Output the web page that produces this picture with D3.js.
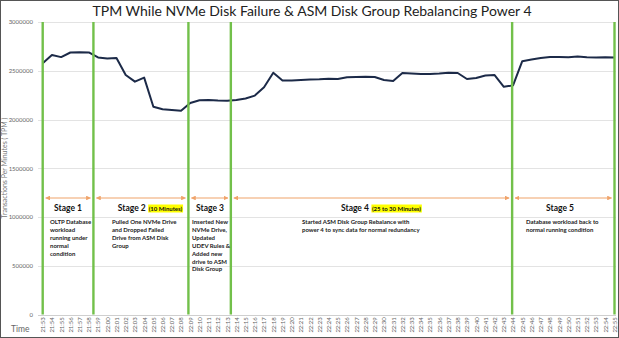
<!DOCTYPE html>
<html><head><meta charset="utf-8">
<script src="https://cdnjs.cloudflare.com/ajax/libs/d3/7.8.5/d3.min.js"></script>
<style>html,body{margin:0;padding:0;background:#fff}</style>
</head><body>
<svg id="c" width="619" height="338"></svg>
<script>
const title = "TPM While NVMe Disk Failure & ASM Disk Group Rebalancing Power 4";
const yTitle = "Transactions Per Minutes ( TPM )";
const xTitle = "Time";
const times = ["21:53","21:54","21:55","21:56","21:57","21:58","21:59","22:00","22:01","22:02",
  "22:03","22:04","22:05","22:06","22:07","22:08","22:09","22:10","22:11","22:12",
  "22:13","22:14","22:15","22:16","22:17","22:18","22:19","22:20","22:21","22:22",
  "22:23","22:24","22:25","22:26","22:27","22:28","22:29","22:30","22:31","22:32",
  "22:33","22:34","22:35","22:36","22:37","22:38","22:39","22:40","22:41","22:42",
  "22:43","22:44","22:45","22:46","22:47","22:48","22:49","22:50","22:51","22:52",
  "22:53","22:54","22:55"];
const tpm = [2576000,2662000,2640000,2687000,2690000,2688000,2636000,2625000,2630000,2456000,
  2388000,2430000,2131000,2105000,2097000,2090000,2170000,2197000,2200000,2195000,
  2193000,2200000,2215000,2245000,2330000,2480000,2400000,2400000,2405000,2410000,
  2412000,2418000,2415000,2433000,2436000,2439000,2436000,2405000,2395000,2477000,
  2472000,2467000,2467000,2472000,2480000,2477000,2415000,2426000,2451000,2456000,
  2335000,2350000,2598000,2615000,2631000,2641000,2641000,2638000,2646000,2638000,
  2636000,2638000,2636000];
const yTicks = [0,500000,1000000,1500000,2000000,2500000,3000000];
// stage boundaries as positions on the time index axis
const stageBounds = [0, 5.5, 15.8, 20.4, 50.9, 62];
const stageNames = ["Stage 1","Stage 2","Stage 3","Stage 4","Stage 5"];
const stageNotes = ["", "(10 Minutes)", "", "(25 to 30 Minutes)", ""];
const stageDesc = [
  ["OLTP Database","workload","running under","normal","condition"],
  ["Pulled One NVMe Drive","and Dropped Failed","Drive from ASM Disk","Group"],
  ["Inserted New","NVMe Drive,","Updated","UDEV Rules &","Added new","drive to ASM","Disk Group"],
  ["Started ASM Disk Group Rebalance with","power 4 to sync data for normal redundancy"],
  ["Database workload back to","normal running condition"]
];

const svg = d3.select("#c");
const W=619,H=338;
svg.append("rect").attr("x",0.5).attr("y",0.5).attr("width",W-1).attr("height",H-1)
  .attr("fill","#fff").attr("stroke","#555").attr("stroke-width",1);

const x = d3.scaleLinear().domain([0, times.length-1]).range([42.7, 614.5]);
const y = d3.scaleLinear().domain([0,3000000]).range([314.5, 22]);
const F = "Lato, 'Open Sans', sans-serif";

svg.append("text").attr("x",312).attr("y",16).attr("text-anchor","middle")
  .attr("font-family",F).attr("font-size",14).attr("fill","#222").text(title);

// grid
svg.append("g").selectAll("line").data(yTicks).join("line")
  .attr("x1",38).attr("x2",616).attr("y1",d=>Math.round(y(d))+0.5).attr("y2",d=>Math.round(y(d))+0.5)
  .attr("stroke",d=>d===0?"#cfcfcf":"#e3e3e3").attr("stroke-width",1);

// y axis labels
const ya = svg.append("g").attr("transform","translate(35,0)")
  .call(d3.axisLeft(y).tickValues(yTicks).tickSize(0).tickPadding(2).tickFormat(d3.format("d")));
ya.select(".domain").remove();
ya.selectAll("text").attr("font-family",F).attr("font-size",6).attr("fill","#666");

svg.append("text").attr("transform","translate(7,168) rotate(-90)").attr("text-anchor","middle")
  .attr("font-family",F).attr("font-size",7).attr("fill","#777").text(yTitle);

// x axis labels
const xa = svg.append("g").attr("transform","translate(0,316)")
  .call(d3.axisBottom(x).tickValues(d3.range(times.length)).tickSize(0).tickFormat(i=>times[i]));
xa.select(".domain").remove();
xa.selectAll("text").attr("font-family",F).attr("font-size",6).attr("fill","#666")
  .attr("text-anchor","end").attr("dy","0.32em").attr("y",0).attr("x",0)
  .attr("transform","rotate(-90)").attr("dx","-0.2em");

svg.append("text").attr("x",11).attr("y",332).attr("font-family",F).attr("font-size",8.5)
  .attr("fill","#666").text(xTitle);

// line
svg.append("path").datum(tpm)
  .attr("d", d3.line().x((d,i)=>x(i)).y(d=>y(d)))
  .attr("fill","none").attr("stroke","#1c2a48").attr("stroke-width",2).attr("stroke-linejoin","round");

// stage boundaries
svg.append("g").selectAll("line").data(stageBounds).join("line")
  .attr("x1",d=>x(d)).attr("x2",d=>x(d)).attr("y1",22).attr("y2",314.5)
  .attr("stroke","#72c04a").attr("stroke-width",2.4);

// arrows
const defs = svg.append("defs");
defs.append("marker").attr("id","ah").attr("viewBox","0 0 10 10").attr("refX",9).attr("refY",5)
  .attr("markerWidth",4).attr("markerHeight",4).attr("orient","auto-start-reverse")
  .append("path").attr("d","M0,0 L10,5 L0,10 z").attr("fill","#f0a36a");
const stages = d3.range(stageNames.length).map(i=>({a:stageBounds[i],b:stageBounds[i+1],name:stageNames[i],note:stageNotes[i],desc:stageDesc[i]}));
svg.append("g").selectAll("line").data(stages).join("line")
  .attr("x1",d=>x(d.a)+3).attr("x2",d=>x(d.b)-3).attr("y1",198).attr("y2",198)
  .attr("stroke","#f0a36a").attr("stroke-width",1.2)
  .attr("marker-start","url(#ah)").attr("marker-end","url(#ah)");

// stage labels
const labelCx = [68, 150, 210, 381, 560];
const descX = [50, 112, 192, 302, 526];
stages.forEach((s,i)=>{
  const g = svg.append("g");
  const t = g.append("text").attr("y",211).attr("font-family",F).attr("font-weight","bold")
    .attr("font-size",8.5).attr("fill","#111");
  t.append("tspan").text(s.name);
  if (s.note) {
    t.append("tspan").attr("font-size",6).attr("dx",3).attr("class","note").text(s.note);
  }
  t.attr("x",labelCx[i]).attr("text-anchor","middle");
  if (s.note) {
    const bb = t.select(".note").node().getBBox();
    g.insert("rect","text").attr("x",bb.x-0.5).attr("y",bb.y-0.5).attr("width",bb.width+1).attr("height",bb.height+1)
      .attr("fill","#ffff00");
  }
  svg.append("g").selectAll("text").data(s.desc).join("text")
    .attr("x",descX[i]).attr("y",(d,k)=>224+k*7.9)
    .attr("font-family",F).attr("font-weight","bold").attr("font-size",6).attr("fill","#222").text(d=>d);
});
</script>
</body></html>
